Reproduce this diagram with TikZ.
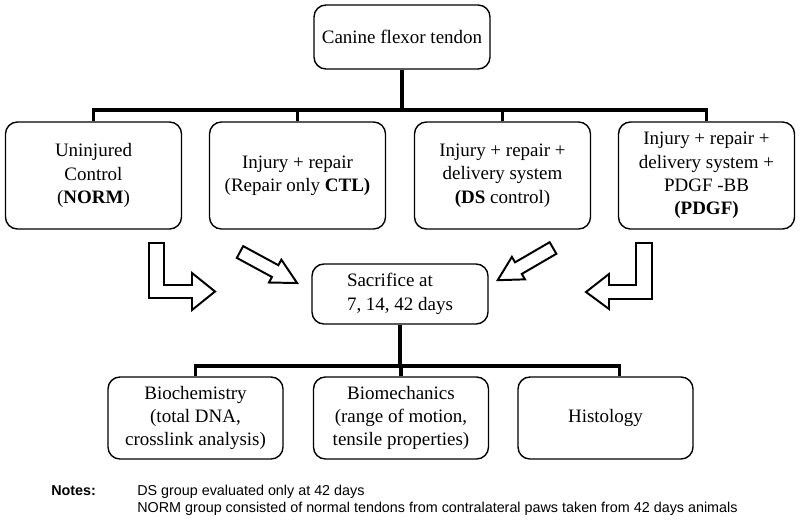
\documentclass[tikz,border=0pt]{standalone}
\usepackage{fontspec}
\setmainfont{Liberation Serif}
\newfontfamily\notesfont{Liberation Sans}

\begin{document}
\begin{tikzpicture}[x=0.025cm, y=-0.025cm,
    box/.style={draw, rounded corners=0.3cm, line width=1pt, align=center, inner sep=2pt,
        font=\fontsize{13.5}{16.6}\selectfont},
    groupbox/.style={box, minimum width=4.4cm, minimum height=2.675cm},
    testbox/.style={box, minimum width=4.375cm, minimum height=2.05cm},
    tree/.style={line width=2.8pt},
    blockarrow/.style={draw, line width=1.4pt, fill=white, line join=miter},
    note/.style={anchor=base west, inner sep=0pt, font=\notesfont\fontsize{10.2}{12}\selectfont}]

    % Fix the page to the reference size
    \useasboundingbox (0,0) rectangle (800,520);

    % Source tissue
    \node[box, minimum width=4.4cm, minimum height=1.6cm] (tendon) at (402,37) {Canine flexor tendon};

    % Treatment groups
    \node[groupbox] (norm) at (93.5,175.5) {Uninjured\\Control\\(\textbf{NORM})};
    \node[groupbox] (ctl)  at (297.5,175.5) {Injury + repair\\(Repair only \textbf{CTL)}};
    \node[groupbox] (ds)   at (502.5,175.5) {Injury + repair +\\delivery system\\\textbf{(DS} control)};
    \node[groupbox] (pdgf) at (706.5,175.5) {Injury + repair +\\delivery system +\\PDGF -BB\\\textbf{(PDGF)}};

    % Time points
    \node[box, align=left, minimum width=4.4cm, minimum height=1.5cm] (sac) at (400,294) {Sacrifice at\\7, 14, 42 days};

    % Outcome measures
    \node[testbox] (biochem) at (195.5,418) {Biochemistry\\(total DNA,\\crosslink analysis)};
    \node[testbox] (biomech) at (401,418) {Biomechanics\\(range of motion,\\tensile properties)};
    \node[testbox] (histo)   at (605.5,418) {Histology};

    % Upper tree
    \coordinate (bar1) at (402,110);
    \draw[tree] (tendon.south) -- (bar1);
    \draw[tree] (norm.north) |- (bar1) -| (pdgf.north);
    \foreach \g in {ctl,ds} {
        \draw[tree] (\g.north) -- (\g.north |- bar1);
    }

    % Lower tree
    \coordinate (bar2) at (400,366);
    \coordinate (histtop) at ([xshift=0.35cm]histo.north);
    \draw[tree] (sac.south) -- (bar2);
    \draw[tree] (biochem.north) |- (bar2) -| (histtop);
    \draw[tree] (biomech.north) -- (biomech.north |- bar2);

    % Block arrows into the sacrifice box
    \draw[blockarrow] (149,243) -- (164,243) -- (164,285) -- (192,285) -- (192,273) -- (215,291.5)
        -- (192,310) -- (192,298) -- (149,298) -- cycle;
    \draw[blockarrow] (652,243) -- (636,243) -- (636,285) -- (609,285) -- (609,274) -- (586,292)
        -- (609,309) -- (609,299) -- (652,299) -- cycle;
    \begin{scope}[shift={(240,252)}, rotate=-28.5]
        \draw[blockarrow] (0,-6.7) -- (40,-6.7) -- (40,-13) -- (65,0) -- (40,13) -- (40,6.7) -- (0,6.7) -- cycle;
    \end{scope}
    \begin{scope}[shift={(553,248)}, rotate=210.2]
        \draw[blockarrow] (0,-6.7) -- (40,-6.7) -- (40,-13) -- (64,0) -- (40,13) -- (40,6.7) -- (0,6.7) -- cycle;
    \end{scope}

    % Notes
    \node[note] (notehead) at (51,495) {\textbf{Notes:}};
    \node[note] (note1) at (137,495) {DS group evaluated only at 42 days};
    \node[note] (note2) at (137,512) {NORM group consisted of normal tendons from contralateral paws taken from 42 days animals};

\end{tikzpicture}
\end{document}
